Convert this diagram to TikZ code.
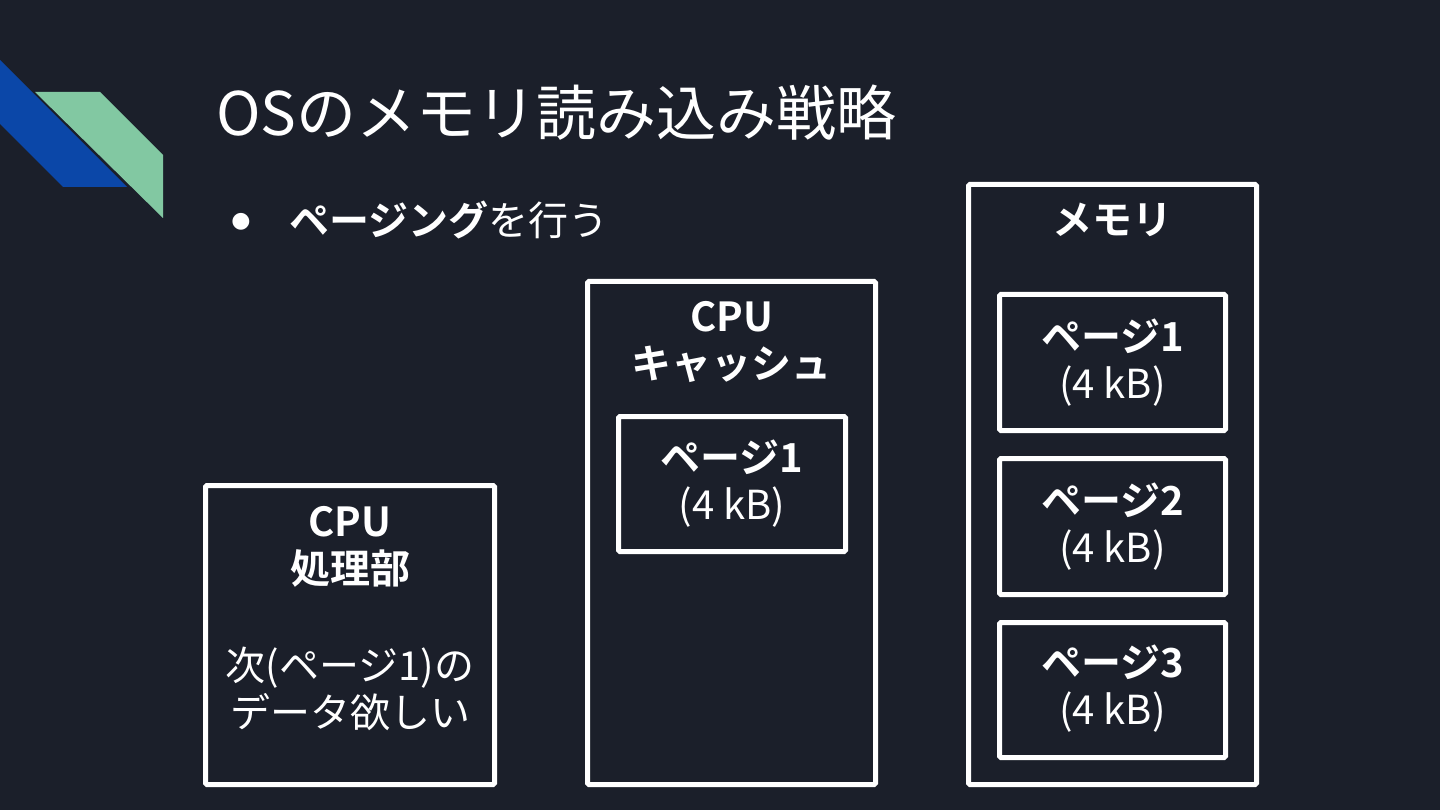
\documentclass[tikz,border=0pt]{standalone}
\usepackage{fontspec}
\setmainfont{Noto Sans CJK JP}[BoldFont={Noto Sans CJK JP Bold}]
\newfontfamily\symfont{DejaVu Sans}
\definecolor{bg}{HTML}{1B1F2A}
\definecolor{dblue}{HTML}{0B47A8}
\definecolor{lgreen}{HTML}{82C8A2}
\tikzset{
  box/.style={draw=white, line width=5pt, rounded corners=1.5pt, inner sep=0pt},
  lbl/.style={text=white, font=\fontsize{40}{47}\selectfont, align=center, inner sep=0pt},
  blbl/.style={lbl, font=\fontsize{40}{47}\selectfont\bfseries},
}
\begin{document}
\begin{tikzpicture}[x=1pt, y=-1pt]
\fill[bg] (0,0) rectangle (1440,810);
\useasboundingbox (0,0) rectangle (1440,810);
% decoration
\fill[dblue] (0,60) -- (127,187) -- (63,187) -- (0,124) -- cycle;
\fill[lgreen] (35,92) -- (100,92) -- (163,155) -- (163,218) -- cycle;
% title
\node[anchor=west, text=white, inner sep=0pt, font=\fontsize{60}{70}\selectfont] (title) at (216,113) {OSのメモリ読み込み戦略};
\node[text=white, inner sep=0pt, font=\symfont\fontsize{22}{26}\selectfont] (bullet) at (241,222) {●};
\node[anchor=west, text=white, inner sep=0pt, font=\fontsize{40}{47}\selectfont] (bltext) at (289,220) {\textbf{ページング}を行う};
% boxes
\node[box, minimum width=289pt, minimum height=299pt] (cpu) at (350,635) {};
\node[box, minimum width=288pt, minimum height=503pt] (cache) at (731.5,533) {};
\node[box, minimum width=227pt, minimum height=135pt] (cpage) at (732,484) {};
\node[box, minimum width=288pt, minimum height=600pt] (mem) at (1112.5,484.5) {};
\node[box, minimum width=226pt, minimum height=136pt] (p1) at (1112.5,362.5) {};
\node[box, minimum width=226pt, minimum height=136pt] (p2) at (1112.5,526.5) {};
\node[box, minimum width=226pt, minimum height=135pt] (p3) at (1112.5,690) {};
% texts
\node[blbl] (cpuT) at (350,547) {CPU\\処理部};
\node[lbl] (cpuW) at (350,689) {次(ページ1)の\\データ欲しい};
\node[blbl] (cacheT) at (731.5,342) {CPU\\キャッシュ};
\node[lbl] (cpT) at (732,484) {\textbf{ページ1}\\(4 kB)};
\node[blbl] (memT) at (1112.5,220) {メモリ};
\node[lbl] (p1T) at (1112.5,363) {\textbf{ページ1}\\(4 kB)};
\node[lbl] (p2T) at (1112.5,527) {\textbf{ページ2}\\(4 kB)};
\node[lbl] (p3T) at (1112.5,689) {\textbf{ページ3}\\(4 kB)};
\end{tikzpicture}
\end{document}
